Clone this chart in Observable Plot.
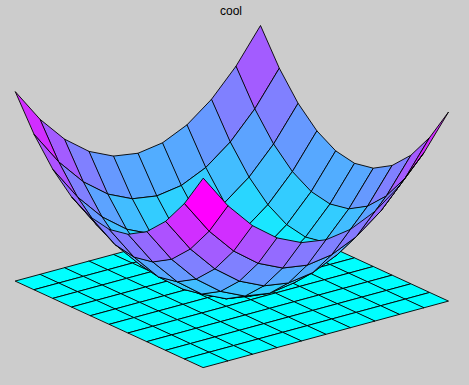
<!DOCTYPE html>
<html>
<head>
<meta charset="utf-8">
<style>html,body{margin:0;padding:0;background:#cccccc;overflow:hidden}svg{display:block}</style>
<script src="https://cdn.jsdelivr.net/npm/d3@7"></script>
<script src="https://cdn.jsdelivr.net/npm/@observablehq/plot@0.6"></script>
</head>
<body>
<script>
const title = "cool";
const xValues = [-1, -0.8, -0.6, -0.4, -0.2, 0, 0.2, 0.4, 0.6, 0.8, 1];
const yValues = [-1, -0.8, -0.6, -0.4, -0.2, 0, 0.2, 0.4, 0.6, 0.8, 1];
const floorLevel = 0;
const zRows = [
  [2.00, 1.64, 1.36, 1.16, 1.04, 1.00, 1.04, 1.16, 1.36, 1.64, 2.00],
  [1.64, 1.28, 1.00, 0.80, 0.68, 0.64, 0.68, 0.80, 1.00, 1.28, 1.64],
  [1.36, 1.00, 0.72, 0.52, 0.40, 0.36, 0.40, 0.52, 0.72, 1.00, 1.36],
  [1.16, 0.80, 0.52, 0.32, 0.20, 0.16, 0.20, 0.32, 0.52, 0.80, 1.16],
  [1.04, 0.68, 0.40, 0.20, 0.08, 0.04, 0.08, 0.20, 0.40, 0.68, 1.04],
  [1.00, 0.64, 0.36, 0.16, 0.04, 0.00, 0.04, 0.16, 0.36, 0.64, 1.00],
  [1.04, 0.68, 0.40, 0.20, 0.08, 0.04, 0.08, 0.20, 0.40, 0.68, 1.04],
  [1.16, 0.80, 0.52, 0.32, 0.20, 0.16, 0.20, 0.32, 0.52, 0.80, 1.16],
  [1.36, 1.00, 0.72, 0.52, 0.40, 0.36, 0.40, 0.52, 0.72, 1.00, 1.36],
  [1.64, 1.28, 1.00, 0.80, 0.68, 0.64, 0.68, 0.80, 1.00, 1.28, 1.64],
  [2.00, 1.64, 1.36, 1.16, 1.04, 1.00, 1.04, 1.16, 1.36, 1.64, 2.00]
];
const azimuth = 37.5 * Math.PI / 180, tilt = 0.353, lift = 0.612;
const hOf = (x, y) => Math.cos(azimuth) * x - Math.sin(azimuth) * y;
const depthOf = (x, y) => Math.sin(azimuth) * x + Math.cos(azimuth) * y;
const vOf = (x, y, z) => tilt * depthOf(x, y) + lift * z;

const vertices = [];
function addCell(id, i, j, zAt, level) {
  [[i, j], [i + 1, j], [i + 1, j + 1], [i, j + 1]].forEach(([a, b]) => {
    const x = xValues[a], y = yValues[b];
    vertices.push({id, level, h: hOf(x, y), v: vOf(x, y, zAt(a, b))});
  });
}
const n = xValues.length - 1;
const cells = [];
for (let j = 0; j < n; j++) for (let i = 0; i < n; i++) {
  cells.push({i, j, depth: depthOf(xValues[i] + xValues[i + 1], yValues[j] + yValues[j + 1])});
}
cells.sort((a, b) => b.depth - a.depth);
cells.forEach(c => addCell("floor-" + c.i + "-" + c.j, c.i, c.j, () => floorLevel, floorLevel));
cells.forEach(c => addCell("surf-" + c.i + "-" + c.j, c.i, c.j, (a, b) => zRows[b][a], zRows[c.j][c.i]));

const hMax = hOf(1, -1);
const vLow = vOf(-1, -1, 0), vHigh = vOf(1, 1, 2);

document.body.append(Plot.plot({
  width: 469,
  height: 385,
  margin: 0,
  style: {background: "#cccccc"},
  x: {domain: [-hMax, hMax], range: [15, 448], axis: null},
  y: {domain: [vLow, vHigh], range: [367, 25], axis: null},
  color: {type: "linear", domain: [0, 2], range: ["#00ffff", "#ff00ff"], interpolate: "rgb"},
  marks: [
    Plot.line(vertices, {x: "h", y: "v", z: "id", fill: "level", stroke: "#000000", strokeWidth: 0.9, curve: "linear-closed"}),
    Plot.text([title], {frameAnchor: "top", dy: 6, dx: -4, fontSize: 12, fontFamily: "Liberation Sans", fill: "#000000"})
  ]
}));
</script>
</body>
</html>
